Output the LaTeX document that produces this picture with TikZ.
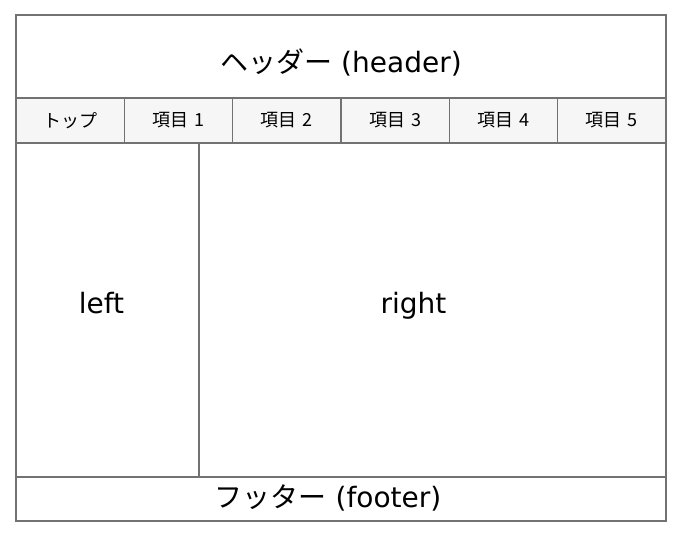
\documentclass[tikz,border=0pt]{standalone}
\usepackage{fontspec}
\setmainfont{DejaVu Sans}
\newfontfamily\jp{Noto Sans CJK JP}
\usetikzlibrary{positioning}
\definecolor{framegray}{HTML}{727272}
\definecolor{navfill}{HTML}{F6F6F6}
\tikzstyle{area} = [rectangle, draw=framegray, line width=1.3pt, inner sep=0pt, outer sep=0pt, anchor=north west]
\tikzstyle{navitem} = [area, fill=navfill, minimum width=108.33pt, minimum height=45pt, font=\jp\fontsize{18}{20}\selectfont]
\tikzstyle{big} = [inner sep=0pt, font=\fontsize{28}{32}\selectfont]

\begin{document}
\begin{tikzpicture}[x=1pt, y=-1pt]
    \useasboundingbox (0,0) rectangle (684,540);
    %%% Header:
    \node[area, minimum width=650pt, minimum height=83pt] (header) at (16,15) {};
    \node[big, text height=36pt, text depth=3pt] (headertext) at (header.center) {{\jp ヘッダー} (header)};
    %%% Navigation:
    \node[navitem] (nav0) at (header.south west) {トップ};
    \foreach \i [count=\j from 0] in {1,...,5}
      \node[navitem, right=0pt of nav\j] (nav\i) {項目\,\,\i};
    %%% Columns:
    \node[area, minimum width=183pt, minimum height=334pt] (left) at (nav0.south west) {};
    \node[area, minimum width=467pt, minimum height=334pt] (right) at (left.north east) {};
    \node[big, text height=21pt, text depth=14pt, xshift=-6pt] (lefttext) at (left.center) {left};
    \node[big, text height=21pt, text depth=14pt, xshift=-19pt] (righttext) at (right.center) {right};
    %%% Footer:
    \node[area, minimum width=650pt, minimum height=44pt] (footer) at (left.south west) {};
    \node[big, text height=21pt, text depth=4pt, xshift=-13pt] (footertext) at (footer.center) {{\jp フッター} (footer)};
  \end{tikzpicture}
\end{document}
